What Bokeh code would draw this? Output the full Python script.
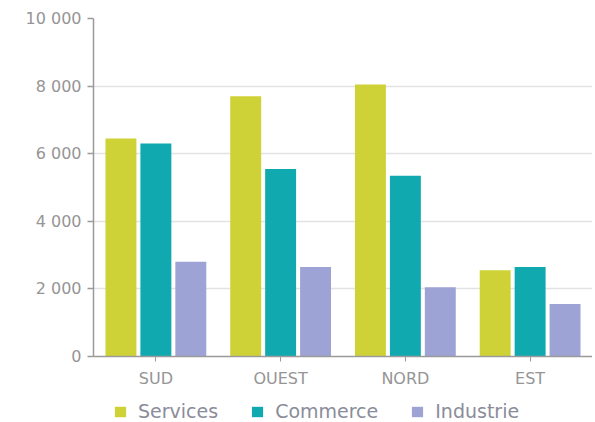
from bokeh.plotting import figure
from bokeh.layouts import column
from bokeh.models import ColumnDataSource, FixedTicker, CustomJSTickFormatter, Legend, LegendItem, Range1d
from bokeh.transform import dodge
from bokeh.embed import file_html
from bokeh.resources import INLINE

regions = ["SUD", "OUEST", "NORD", "EST"]
services = [6450, 7700, 8050, 2550]
commerce = [6300, 5550, 5350, 2650]
industrie = [2800, 2650, 2050, 1550]
series_names = ["Services", "Commerce", "Industrie"]
colors = ["#cfd236", "#10a9b0", "#9ea3d6"]
y_ticks = [0, 2000, 4000, 6000, 8000, 10000]

source = ColumnDataSource(dict(region=regions, Services=services, Commerce=commerce, Industrie=industrie))

W = 592
p = figure(x_range=regions, y_range=Range1d(0, 10000), width=W, height=390,
           output_backend="svg", toolbar_location=None,
           min_border_left=93, min_border_right=0, min_border_top=18, min_border_bottom=32)

offsets = [-0.28, 0.0, 0.28]
for name, off, col in zip(series_names, offsets, colors):
    p.vbar(x=dodge("region", off, range=p.x_range), top=name, width=0.248,
           source=source, fill_color=col, line_color=None)

p.outline_line_color = None
p.xgrid.grid_line_color = None
p.ygrid.grid_line_color = "#e2e2e2"
p.ygrid.grid_line_width = 1.5

p.yaxis.ticker = FixedTicker(ticks=y_ticks)
p.yaxis.formatter = CustomJSTickFormatter(code="return tick.toString().replace(/\\B(?=(\\d{3})+(?!\\d))/g, ' ');")
p.yaxis.axis_line_color = "#9a9a9a"
p.yaxis.axis_line_width = 1.5
p.yaxis.major_tick_line_color = "#9a9a9a"
p.yaxis.major_tick_line_width = 1.5
p.yaxis.major_tick_out = 6
p.yaxis.major_tick_in = 0
p.yaxis.minor_tick_line_color = None
p.yaxis.major_label_text_color = "#959595"
p.yaxis.major_label_text_font = "DejaVu Sans"
p.yaxis.major_label_text_font_size = "16px"
p.yaxis.major_label_standoff = 6

p.xaxis.axis_line_color = "#9a9a9a"
p.xaxis.axis_line_width = 1.5
p.xaxis.major_tick_line_color = "#9a9a9a"
p.xaxis.major_tick_out = 5
p.xaxis.major_tick_in = 0
p.xaxis.major_label_text_color = "#959595"
p.xaxis.major_label_text_font = "DejaVu Sans"
p.xaxis.major_label_text_font_size = "16px"
p.xaxis.major_label_standoff = 7

# legend strip below the chart (its bars lie far outside its visible range)
lg = figure(width=W, height=32, output_backend="svg", toolbar_location=None,
            x_range=p.x_range, y_range=Range1d(50000, 60000),
            min_border_left=0, min_border_right=0, min_border_top=0, min_border_bottom=0)
lg.axis.visible = False
lg.grid.visible = False
lg.outline_line_color = None
legend_renderers = []
for name, off, col in zip(series_names, offsets, colors):
    legend_renderers.append(lg.vbar(x=dodge("region", off, range=lg.x_range), top=name, width=0.248,
                                    source=source, fill_color=col, line_color=None))
legend = Legend(items=[LegendItem(label=n, renderers=[r]) for n, r in zip(series_names, legend_renderers)],
                orientation="horizontal", location=(20, 0))
legend.label_text_font = "DejaVu Sans"
legend.label_text_font_size = "19px"
legend.label_text_color = "#8a8c9a"
legend.glyph_width = 14
legend.glyph_height = 13
legend.spacing = 32
legend.label_standoff = 11
legend.border_line_color = None
legend.background_fill_alpha = 0
legend.padding = 0
legend.margin = 0
lg.add_layout(legend, "center")

layout = column(p, lg, spacing=0)
open("out.html", "w").write(file_html(layout, INLINE))
